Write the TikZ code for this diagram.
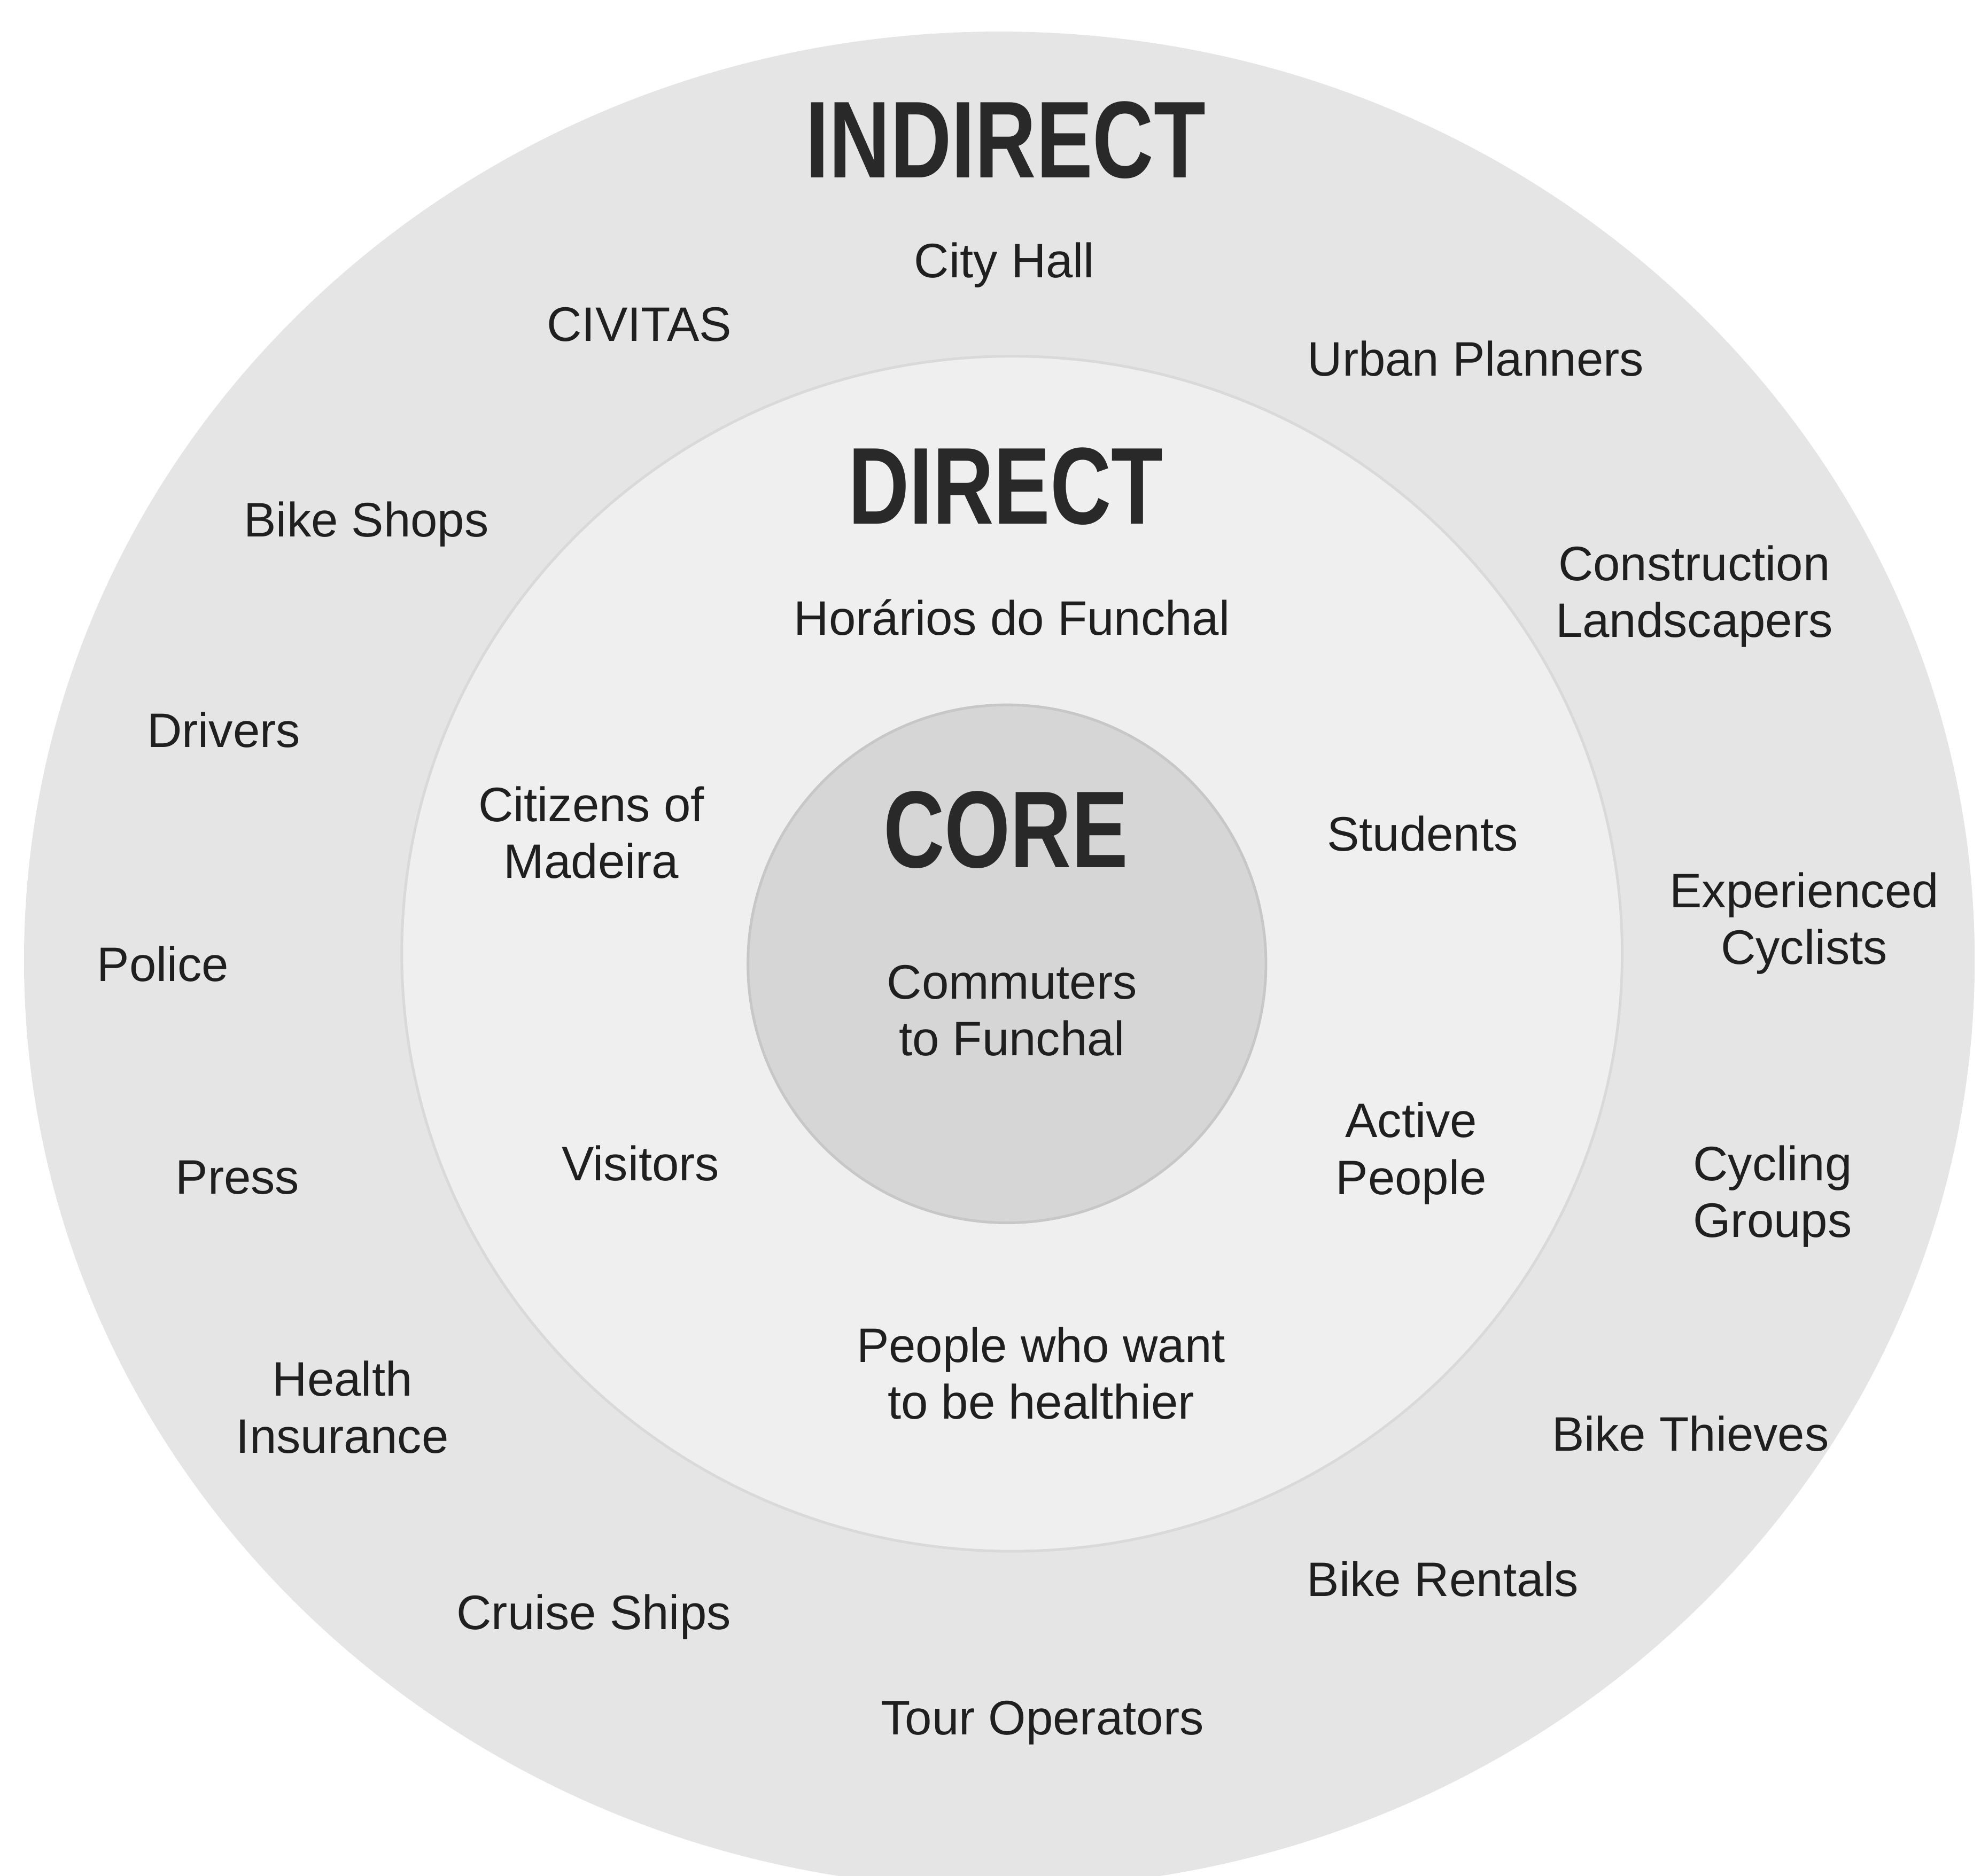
\documentclass[tikz,border=0pt]{standalone}
\usepackage{fontspec}
\setmainfont{Liberation Sans}
\usepackage{graphicx}
\usetikzlibrary{positioning}

\definecolor{ringout}{gray}{0.898}
\definecolor{ringmid}{gray}{0.937}
\definecolor{ringcore}{gray}{0.84}
\definecolor{midline}{gray}{0.85}
\definecolor{coreline}{gray}{0.78}
\definecolor{inkgray}{gray}{0.12}
\definecolor{headgray}{gray}{0.16}

\begin{document}
\begin{tikzpicture}[lbl/.style={align=center, text=inkgray, font=\fontsize{10.9}{12.8}\selectfont},
                    head/.style={text=headgray, font=\fontsize{24.6}{24.6}\selectfont\bfseries}]
  \useasboundingbox (0,0) rectangle (15.68,-14.85);
  \clip (0,0) rectangle (15.68,-14.85);

  % rings
  \fill[ringout] (7.91,-7.60) ellipse [x radius=7.72cm, y radius=7.35cm];
  \filldraw[fill=ringmid, draw=midline, line width=0.6pt] (8.01,-7.55) ellipse [x radius=4.83cm, y radius=4.73cm];
  \filldraw[fill=ringcore, draw=coreline, line width=0.6pt] (7.97,-7.63) circle (2.05cm);

  % headings
  \node[head] (indirect) at (7.96,-1.11) {\scalebox{0.775}[1]{INDIRECT}};
  \node[head] (direct) at (7.96,-3.85) {\scalebox{0.775}[1]{DIRECT}};
  \node[head] (core) at (7.96,-6.57) {\scalebox{0.775}[1]{CORE}};

  % indirect ring
  \node[lbl] (cityhall) at (7.95,-2.10) {City Hall};
  \node[lbl] (civitas) at (5.06,-2.57) {CIVITAS};
  \node[lbl] (planners) at (11.68,-2.84) {Urban Planners};
  \node[lbl] (bikeshops) at (2.90,-4.15) {Bike Shops};
  \node[lbl] (construction) at (13.41,-4.72) {Construction\\Landscapers};
  \node[lbl] (drivers) at (1.77,-5.78) {Drivers};
  \node[lbl] (experienced) at (14.28,-7.31) {Experienced\\Cyclists};
  \node[lbl] (police) at (1.29,-7.63) {Police};
  \node[lbl] (press) at (1.88,-9.32) {Press};
  \node[lbl] (cycling) at (14.03,-9.47) {Cycling\\Groups};
  \node[lbl] (insurance) at (2.71,-11.14) {Health\\Insurance};
  \node[lbl] (thieves) at (13.38,-11.35) {Bike Thieves};
  \node[lbl] (rentals) at (11.42,-12.50) {Bike Rentals};
  \node[lbl] (cruise) at (4.70,-12.80) {Cruise Ships};
  \node[lbl] (tour) at (8.25,-13.64) {Tour Operators};

  % direct ring
  \node[lbl] (horarios) at (8.01,-4.89) {Horários do Funchal};
  \node[lbl] (citizens) at (4.68,-6.59) {Citizens of\\Madeira};
  \node[lbl] (students) at (11.26,-6.60) {Students};
  \node[lbl] (active) at (11.17,-9.13) {Active\\People};
  \node[lbl] (visitors) at (5.07,-9.21) {Visitors};
  \node[lbl] (healthier) at (8.24,-10.87) {People who want\\to be healthier};

  % core
  \node[lbl] (commuters) at (8.01,-8.00) {Commuters\\to Funchal};
\end{tikzpicture}
\end{document}
